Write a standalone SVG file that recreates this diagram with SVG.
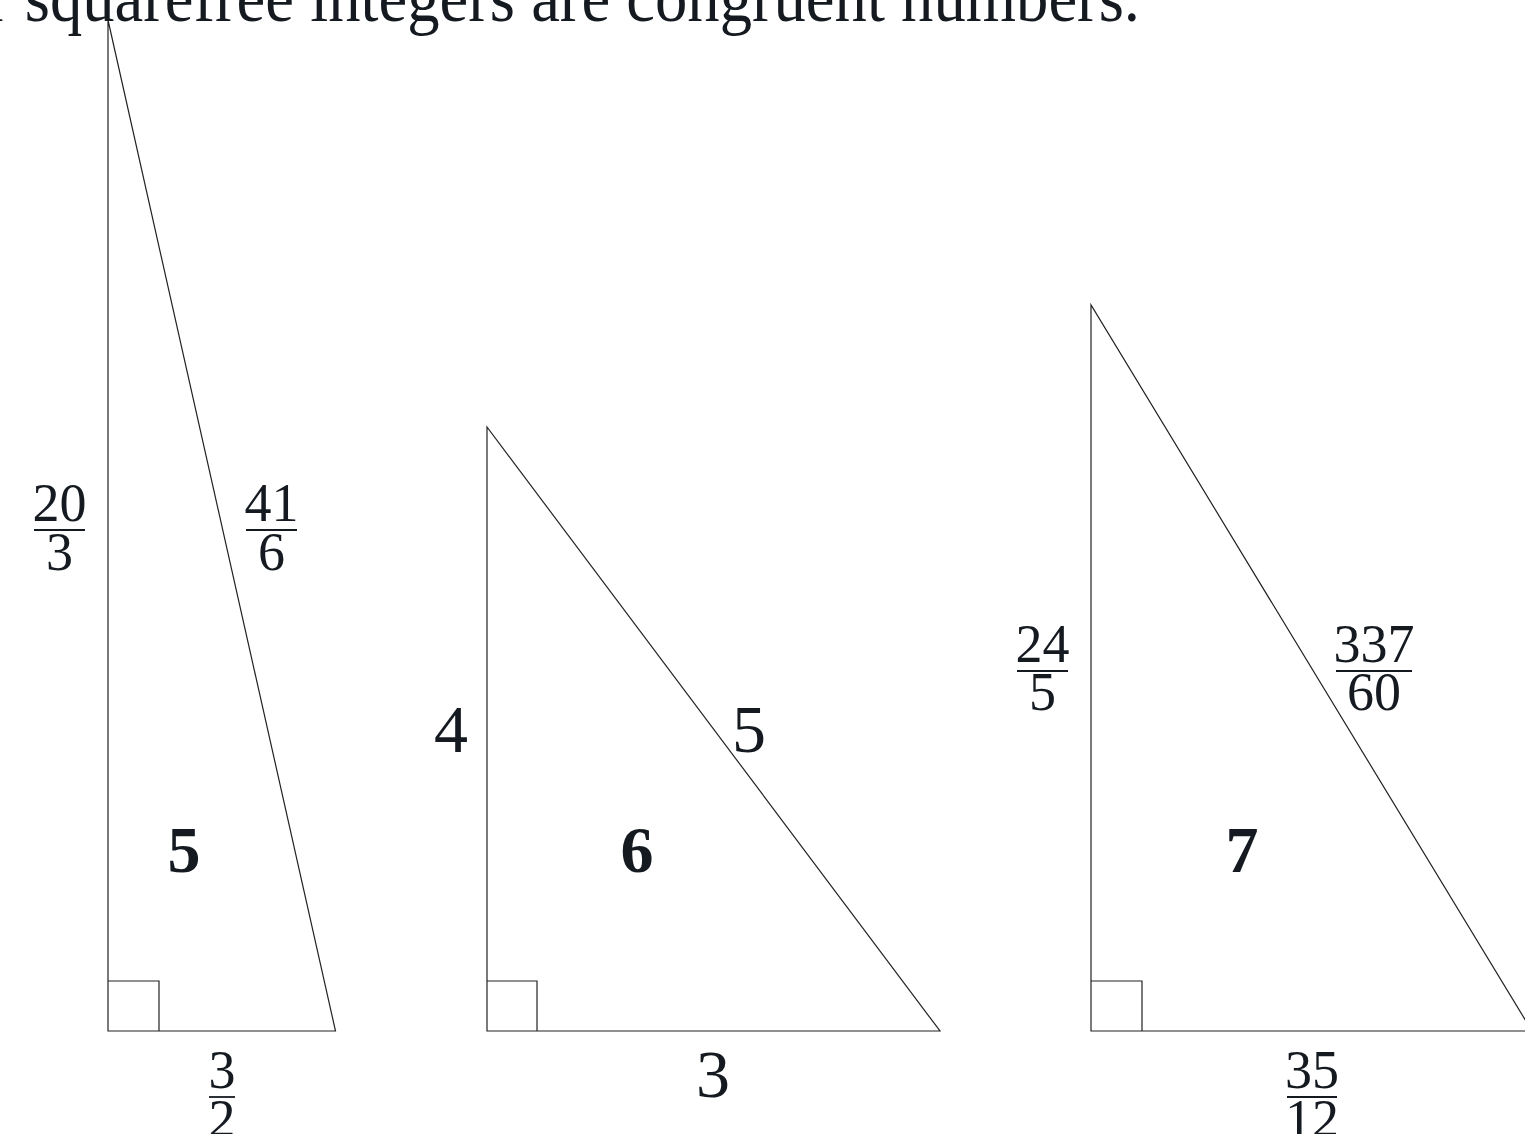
<svg xmlns="http://www.w3.org/2000/svg" width="1525" height="1134" viewBox="0 0 1525 1134">
<style>
.edge{fill:none;stroke:#222;stroke-width:1.2}
.t{font-family:"Liberation Serif","DejaVu Serif",serif;fill:#141a20;text-anchor:middle}
.f{font-size:54px}
.n{font-size:68px}
.b{font-size:66px;font-weight:bold}
.bar{stroke:#141a20;stroke-width:1.8}
</style>
<rect width="1525" height="1134" fill="#fff"/>
<text x="-13" y="21" font-family="Liberation Serif, DejaVu Serif, serif" font-size="70" fill="#141a20" textLength="1153" lengthAdjust="spacingAndGlyphs">r squarefree integers are congruent numbers.</text>
<g id="connectors">
<polygon class="edge" points="108,20 108,1031 335.5,1031"/>
<polyline class="edge" points="108,981 159,981 159,1031"/>
<polygon class="edge" points="487,427 487,1031 940,1031"/>
<polyline class="edge" points="487,981 537,981 537,1031"/>
<polygon class="edge" points="1091,305 1091,1031 1532,1031"/>
<polyline class="edge" points="1091,981 1142,981 1142,1031"/>
</g>
<g id="triangle5">
<text class="t f" x="59.5" y="521">20</text><line class="bar" x1="34" y1="530" x2="85" y2="530"/><text class="t f" x="59.5" y="570">3</text>
<text class="t f" x="271.5" y="521">41</text><line class="bar" x1="246" y1="530" x2="297" y2="530"/><text class="t f" x="271.5" y="570">6</text>
<text class="t f" x="222" y="1088">3</text><line class="bar" x1="209" y1="1097" x2="235" y2="1097"/><text class="t f" x="222" y="1137">2</text>
<text class="t b" x="184" y="872">5</text>
</g>
<g id="triangle6">
<text class="t n" x="451" y="752">4</text>
<text class="t n" x="749" y="752">5</text>
<text class="t n" x="713" y="1097">3</text>
<text class="t b" x="637" y="872">6</text>
</g>
<g id="triangle7">
<text class="t f" x="1042.5" y="662">24</text><line class="bar" x1="1017" y1="671" x2="1068" y2="671"/><text class="t f" x="1042.5" y="710">5</text>
<text class="t f" x="1374" y="662">337</text><line class="bar" x1="1336" y1="671" x2="1412" y2="671"/><text class="t f" x="1374" y="710">60</text>
<text class="t f" x="1312" y="1088">35</text><line class="bar" x1="1287" y1="1097" x2="1337" y2="1097"/><text class="t f" x="1312" y="1137">12</text>
<text class="t b" x="1242" y="872">7</text>
</g>
</svg>
